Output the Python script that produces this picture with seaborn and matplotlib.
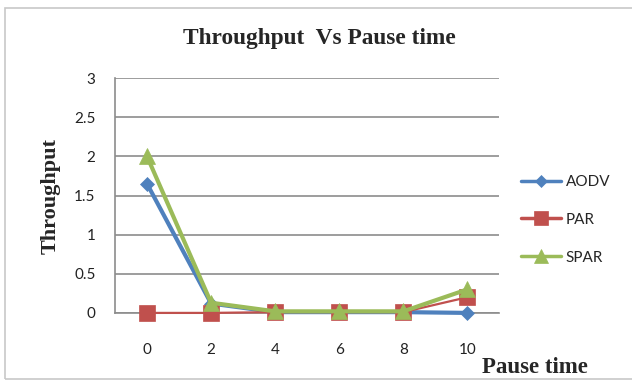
import matplotlib
matplotlib.use("Agg")
import matplotlib.pyplot as plt
import seaborn as sns
import pandas as pd
from matplotlib.lines import Line2D
from matplotlib.patches import Rectangle

pause_time = ["0", "2", "4", "6", "8", "10"]
aodv = [1.65, 0.12, 0.01, 0.01, 0.01, 0.0]
par = [0.0, 0.0, 0.01, 0.01, 0.01, 0.2]
spar = [2.0, 0.13, 0.02, 0.02, 0.02, 0.3]
series_names = ["AODV", "PAR", "SPAR"]
y_ticks = [0, 0.5, 1, 1.5, 2, 2.5, 3]

colors = {"AODV": "#4F81BD", "PAR": "#C0504D", "SPAR": "#9BBB59"}
markers = {"AODV": "D", "PAR": "s", "SPAR": "^"}
msizes = {"AODV": 7, "PAR": 11.5, "SPAR": 11}
lwidths = {"AODV": 3.0, "PAR": 1.6, "SPAR": 3.0}

sns.set_style("white")
plt.rcParams["font.family"] = ["Lato", "DejaVu Sans"]

fig = plt.figure(figsize=(6.32, 3.83), dpi=100)
ax = fig.add_axes([0.182, 0.183, 0.608, 0.613])

values = {"AODV": aodv, "PAR": par, "SPAR": spar}
for name in series_names:
    df = pd.DataFrame({"Pause time": pause_time, "Throughput": values[name]})
    n_before = len(ax.lines)
    sns.pointplot(data=df, x="Pause time", y="Throughput", order=pause_time,
                  color=colors[name], markers=markers[name],
                  markersize=msizes[name], linewidth=lwidths[name],
                  ax=ax, errorbar=None)
    for ln in ax.lines[n_before:]:
        ln.set_markersize(msizes[name])
        ln.set_markeredgewidth(0.5)
        ln.set_zorder(3)
        ln.set_clip_on(False)

ax.set_ylim(0, 3)
ax.set_xlim(-0.5, 5.5)
ax.set_yticks(y_ticks)
ax.set_yticklabels(["0", "0.5", "1", "1.5", "2", "2.5", "3"])
ax.yaxis.grid(True, color="#8c8c8c", linewidth=1.2)
ax.set_axisbelow(True)
for s in ["top", "right"]:
    ax.spines[s].set_visible(False)
for s in ["left", "bottom"]:
    ax.spines[s].set_color("#8c8c8c")
    ax.spines[s].set_linewidth(1.2)
ax.tick_params(axis="both", length=0, labelsize=11, colors="#222222")
ax.tick_params(axis="y", pad=14)
ax.tick_params(axis="x", pad=22)

ax.set_xlabel("")
ax.set_ylabel("Throughput", family=["Liberation Serif"], fontweight="bold",
              fontsize=16, labelpad=10)
fig.text(0.846, 0.04, "Pause time", family=["Liberation Serif"],
         fontweight="bold", fontsize=16.5, ha="center", va="center")
fig.text(0.505, 0.9, "Throughput  Vs Pause time", family=["Liberation Serif"],
         fontweight="bold", fontsize=16.8, ha="center", va="center")

handles = [Line2D([0], [0], color=colors[n], marker=markers[n], markeredgewidth=0.5,
                  markersize=msizes[n] * 0.9, linewidth=2.5) for n in series_names]
fig.legend(handles, series_names, loc="center left",
           bbox_to_anchor=(0.803, 0.426), frameon=False, fontsize=11,
           handlelength=2.6, handletextpad=0.3, labelspacing=1.55)

fig.patches.append(Rectangle((0.008, 0.01), 1.2, 0.97, transform=fig.transFigure,
                             fill=False, edgecolor="#c8c8c8", linewidth=1.2))

fig.savefig("out.png", dpi=100)
